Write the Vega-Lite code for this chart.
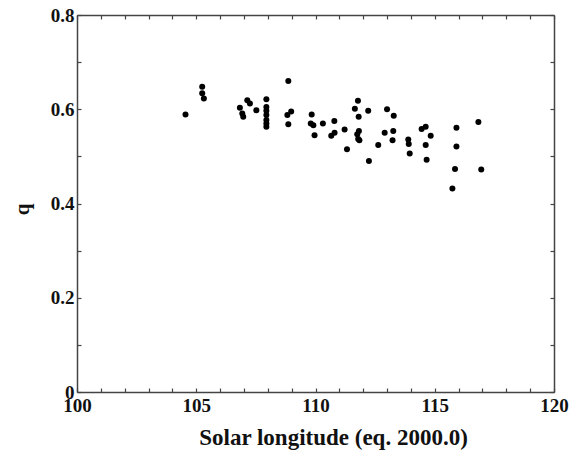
{
  "$schema": "https://vega.github.io/schema/vega-lite/v6.json",
  "width": 477,
  "height": 377,
  "autosize": "none",
  "padding": {"left": 77, "top": 15, "right": 29, "bottom": 58},
  "background": "white",
  "config": {
    "view": {"stroke": null},
    "axis": {
      "labelFont": "Liberation Serif",
      "titleFont": "Liberation Serif",
      "labelFontWeight": "bold",
      "titleFontWeight": "bold",
      "labelColor": "#111",
      "titleColor": "#111",
      "domainColor": "#444",
      "domainWidth": 1.5,
      "tickColor": "#444",
      "tickWidth": 1.2,
      "grid": false
    }
  },
  "data": {
    "values": [
      {"lon": 104.55, "q": 0.589},
      {"lon": 105.25, "q": 0.648},
      {"lon": 105.25, "q": 0.634},
      {"lon": 105.32, "q": 0.623},
      {"lon": 106.83, "q": 0.603},
      {"lon": 106.93, "q": 0.591},
      {"lon": 106.97, "q": 0.584},
      {"lon": 107.14, "q": 0.619},
      {"lon": 107.25, "q": 0.612},
      {"lon": 107.52, "q": 0.598},
      {"lon": 107.94, "q": 0.621},
      {"lon": 107.94, "q": 0.605},
      {"lon": 107.94, "q": 0.597},
      {"lon": 107.94, "q": 0.588},
      {"lon": 107.94, "q": 0.577},
      {"lon": 107.94, "q": 0.570},
      {"lon": 107.94, "q": 0.563},
      {"lon": 108.86, "q": 0.660},
      {"lon": 108.82, "q": 0.588},
      {"lon": 108.98, "q": 0.595},
      {"lon": 108.86, "q": 0.568},
      {"lon": 109.84, "q": 0.589},
      {"lon": 109.80, "q": 0.570},
      {"lon": 109.91, "q": 0.566},
      {"lon": 109.96, "q": 0.545},
      {"lon": 110.31, "q": 0.570},
      {"lon": 110.79, "q": 0.575},
      {"lon": 110.66, "q": 0.544},
      {"lon": 110.80, "q": 0.550},
      {"lon": 111.22, "q": 0.557},
      {"lon": 111.32, "q": 0.515},
      {"lon": 111.78, "q": 0.618},
      {"lon": 111.65, "q": 0.601},
      {"lon": 111.81, "q": 0.584},
      {"lon": 111.82, "q": 0.554},
      {"lon": 111.75, "q": 0.547},
      {"lon": 111.79, "q": 0.537},
      {"lon": 111.84, "q": 0.534},
      {"lon": 112.21, "q": 0.597},
      {"lon": 112.24, "q": 0.490},
      {"lon": 112.63, "q": 0.524},
      {"lon": 113.00, "q": 0.600},
      {"lon": 113.28, "q": 0.586},
      {"lon": 112.90, "q": 0.550},
      {"lon": 113.26, "q": 0.554},
      {"lon": 113.23, "q": 0.534},
      {"lon": 113.89, "q": 0.536},
      {"lon": 113.91, "q": 0.526},
      {"lon": 113.95, "q": 0.506},
      {"lon": 114.45, "q": 0.558},
      {"lon": 114.62, "q": 0.563},
      {"lon": 114.83, "q": 0.544},
      {"lon": 114.62, "q": 0.524},
      {"lon": 114.66, "q": 0.493},
      {"lon": 115.91, "q": 0.561},
      {"lon": 115.91, "q": 0.521},
      {"lon": 115.85, "q": 0.473},
      {"lon": 115.74, "q": 0.432},
      {"lon": 116.83, "q": 0.573},
      {"lon": 116.95, "q": 0.472}
    ]
  },
  "layer": [
    {
      "mark": {"type": "point", "filled": true, "shape": "circle", "size": 36, "color": "#000", "opacity": 1},
      "encoding": {
        "x": {
          "field": "lon", "type": "quantitative",
          "scale": {"domain": [100, 120], "nice": false, "zero": false},
          "axis": {
            "orient": "bottom",
            "title": "Solar longitude (eq. 2000.0)",
            "titleFontSize": 23,
            "titleX": 256,
            "titleY": 52,
            "titleAlign": "center",
            "titleBaseline": "alphabetic",
            "labelFontSize": 19,
            "labelPadding": 8,
            "values": [100,101,102,103,104,105,106,107,108,109,110,111,112,113,114,115,116,117,118,119,120],
            "labelExpr": "datum.value % 5 === 0 ? datum.label : ''",
            "labelFlush": false,
            "labelOverlap": false,
            "tickSize": -4
          }
        },
        "y": {
          "field": "q", "type": "quantitative",
          "scale": {"domain": [0, 0.8], "nice": false},
          "axis": {
            "orient": "left",
            "title": "q",
            "titleFontSize": 21,
            "titleX": -55,
            "titleY": 194,
            "titleAngle": -90,
            "titleAlign": "center",
            "titleBaseline": "middle",
            "labelFontSize": 19,
            "labelPadding": 7,
            "values": [0, 0.1, 0.2, 0.3, 0.4, 0.5, 0.6, 0.7, 0.8],
            "labelExpr": "(round(datum.value * 10) % 2 === 0) ? (datum.value === 0 ? '0' : format(datum.value, '.1f')) : ''",
            "labelFlush": false,
            "labelOverlap": false,
            "labelBaseline": "middle",
            "tickSize": -4
          }
        }
      }
    },
    {
      "mark": {"type": "point", "opacity": 0},
      "encoding": {
        "x": {
          "field": "lon", "type": "quantitative",
          "axis": {
            "orient": "top", "title": null, "labels": false,
            "values": [100,101,102,103,104,105,106,107,108,109,110,111,112,113,114,115,116,117,118,119,120],
            "tickSize": -4
          }
        },
        "y": {
          "field": "q", "type": "quantitative",
          "axis": {
            "orient": "right", "title": null, "labels": false,
            "values": [0, 0.1, 0.2, 0.3, 0.4, 0.5, 0.6, 0.7, 0.8],
            "tickSize": -4
          }
        }
      }
    }
  ],
  "resolve": {"axis": {"x": "independent", "y": "independent"}}
}
